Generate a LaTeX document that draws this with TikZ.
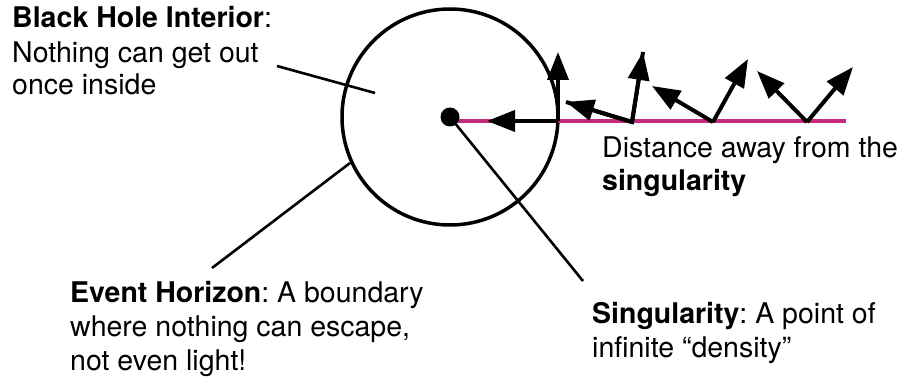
\documentclass[tikz,border=0pt]{standalone}
\usepackage{fontspec}
\setmainfont{TeX Gyre Heros}
\usetikzlibrary{arrows.meta}
\definecolor{magline}{RGB}{199,42,122}
\tikzset{
  txt/.style={anchor=base west, inner sep=0pt, font=\fontsize{28.5}{33}\selectfont},
  ray/.style={line width=4pt, -{Triangle[length=28pt,width=21pt]}},
  pointer/.style={line width=2.6pt},
}
\frenchspacing
\begin{document}
\begin{tikzpicture}[x=1pt,y=-1pt]
\useasboundingbox (0,0) rectangle (900,377);
% circle
\node[circle, draw, line width=3.5pt, minimum size=216pt, inner sep=0pt] (hole) at (450,117) {};
% magenta line
\coordinate (s0) at (450,121);
\coordinate (s1) at (846,121);
\draw[magline, line width=4pt] (s0) -- (s1);
% singularity dot
\node[circle, fill=black, minimum size=19pt, inner sep=0pt] (sing) at (450,117) {};
% rays
\coordinate (a0) at (558,121);
\coordinate (a1) at (487,121);
\coordinate (a2) at (558,52);
\draw[ray] (a0) -- (a1);
\draw[ray] (a0) -- (a2);
\coordinate (b0) at (632,122);
\coordinate (b1) at (566,102);
\coordinate (b2) at (643,52);
\draw[line width=4pt, line join=miter] (b1) -- (b0) -- (b2);
\draw[ray] (b0) -- (b1);
\draw[ray] (b0) -- (b2);
\coordinate (c0) at (713,122);
\coordinate (c1) at (652,86);
\coordinate (c2) at (748,59);
\draw[ray] (c0) -- (c1);
\draw[ray] (c0) -- (c2);
\coordinate (d0) at (807,122);
\coordinate (d1) at (757,71);
\coordinate (d2) at (853,67);
\draw[ray] (d0) -- (d1);
\draw[ray] (d0) -- (d2);
% texts
\node[txt] (bhi1) at (12,28) {\textbf{Black Hole Interior}:};
\node[txt] (bhi2) at (12,63) {Nothing can get out};
\node[txt] (bhi3) at (12,95) {once inside};
\node[txt] (eh1) at (70,302) {\textbf{Event Horizon}: A boundary};
\node[txt] (eh2) at (70,336) {where nothing can escape,};
\node[txt] (eh3) at (70,370) {not even light!};
\node[txt] (sg1) at (592,323) {\textbf{Singularity}: A point of};
\node[txt] (sg2) at (592,357) {infinite “density”};
\node[txt] (ds1) at (602,158) {Distance away from the};
\node[txt] (ds2) at (602,190) {\textbf{singularity}};
% pointers
\coordinate (p1a) at (277,66);
\coordinate (p1b) at (375,93);
\draw[pointer] (p1a) -- (p1b);
\coordinate (p2a) at (350,163);
\coordinate (p2b) at (212,268);
\draw[pointer] (p2a) -- (p2b);
\coordinate (p3b) at (583,281);
\draw[pointer] (sing.center) -- (p3b);
\end{tikzpicture}
\end{document}
